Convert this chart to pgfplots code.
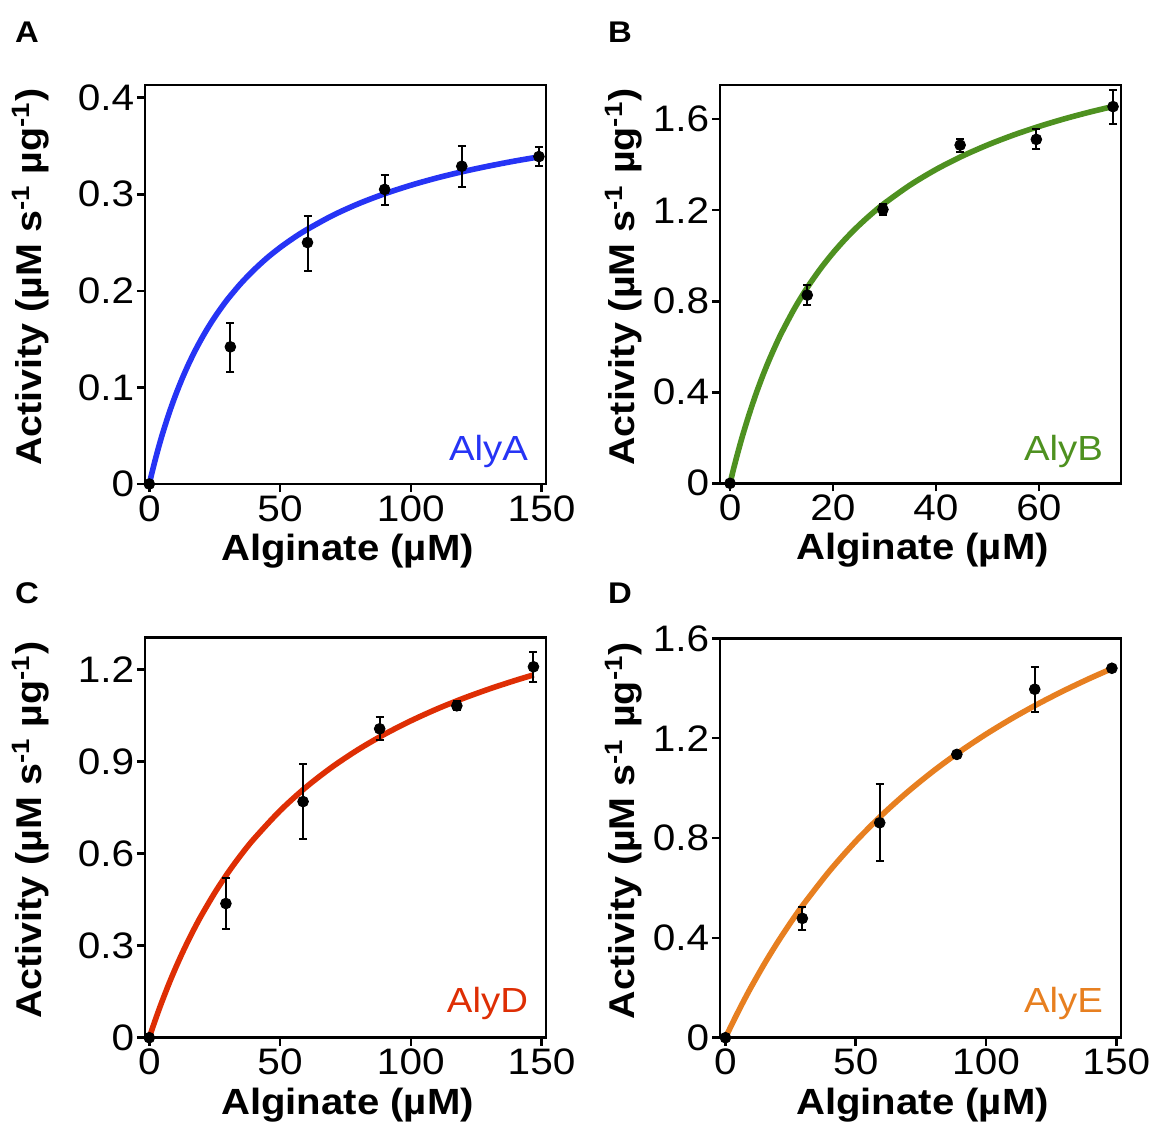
\documentclass[border=0pt]{standalone}
\usepackage{fontspec}
\setmainfont{Liberation Sans}[FakeStretch=1.1]
\usepackage{pgfplots}
\pgfplotsset{compat=1.18}

\definecolor{cA}{RGB}{38,52,245}
\definecolor{cB}{RGB}{78,145,32}
\definecolor{cD}{RGB}{222,46,4}
\definecolor{cE}{RGB}{231,127,32}

\pgfplotsset{
  panel/.style={
    scale only axis,
    axis line style={line width=1.4bp},
    tick style={line width=1.3bp, black},
    major tick length=4bp,
    tick align=outside,
    tick pos=left,
    ymin=0,
    /pgf/number format/assume math mode=true,
    ticklabel style={font=\fontsize{18.5}{21}\selectfont},
    yticklabel style={inner sep=1.2bp},
    xticklabel style={inner sep=1.5bp},
    xlabel={\fontsize{18.3}{21}\selectfont\bfseries Alginate (µM)},
    ylabel={\fontsize{18}{21}\selectfont\bfseries Activity (µM s\textsuperscript{-1} µg\textsuperscript{-1})},
    xlabel style={at={(axis description cs:0.505,-0.192)}, anchor=base},
  },
  fit/.style={line width=2.8bp, no marks, smooth},
  pts/.style={only marks, mark=*, mark size=2.7bp, black,
    error bars/.cd, y dir=both, y explicit,
    error bar style={line width=1bp, black},
    error mark options={rotate=90, mark size=2bp, line width=1bp, black}},
}

\begin{document}
\begin{tikzpicture}
\useasboundingbox (0,0) rectangle (576bp,-561bp);

% ---- A
\begin{axis}[panel, at={(72.5bp,-242bp)}, anchor=south west,
  width=200.5bp, height=199.5bp,
  xmin=-1.64, xmax=151.7, ymax=0.4131,
  xtick={0,50,100,150}, xticklabels={0,50,100,150},
  ytick={0,0.1,0.2,0.3,0.4}, yticklabels={0,0.1,0.2,0.3,0.4},
  ylabel style={at={(axis description cs:-0.333,0.518)}, anchor=north, inner sep=0pt}]
\addplot[fit, cA] coordinates {
 (0,0) (1,0.0114) (2,0.0222) (3.5,0.0374) (5,0.0515) (7.5,0.0728) (10,0.0917)
 (12.5,0.1087) (15,0.1240) (17.5,0.1379) (20,0.1505) (22.5,0.1621) (25,0.1727)
 (27.5,0.1824) (30,0.1915) (35,0.2076) (40,0.2216) (45,0.2340) (50,0.2448)
 (55,0.2544) (60,0.2630) (70,0.2779) (80,0.2902)
 (90,0.3005) (100,0.3093) (110,0.3169) (120,0.3235) (130,0.3293) (140,0.3345) (150,0.3391)};
\addplot[pts] coordinates {
 (0,0) +- (0,0)
 (31,0.142) += (0,0.025) -= (0,0.026)
 (60.5,0.250) += (0,0.027) -= (0,0.029)
 (90,0.305) += (0,0.015) -= (0,0.016)
 (119.5,0.329) += (0,0.021) -= (0,0.022)
 (149,0.339) += (0,0.010) -= (0,0.010)};
\node[anchor=base east, text=cA, font=\fontsize{17.5}{20}\selectfont, inner sep=0pt] at (rel axis cs:0.956,0.06) {AlyA};
\end{axis}

% ---- B
\begin{axis}[panel, at={(360bp,-241.65bp)}, anchor=south west,
  width=200.5bp, height=199.15bp,
  xmin=-1.95, xmax=75.95, ymax=1.75,
  xtick={0,20,40,60}, xticklabels={0,20,40,60},
  ytick={0,0.4,0.8,1.2,1.6}, yticklabels={0,0.4,0.8,1.2,1.6},
  ylabel style={at={(axis description cs:-0.288,0.518)}, anchor=north, inner sep=0pt}]
\addplot[fit, cB] coordinates {
 (0,0) (0.5,0.0466) (1,0.0912) (1.75,0.1546) (2.5,0.2144) (3.75,0.3060) (5,0.3901)
 (6.25,0.4667) (7.5,0.5367) (8.75,0.6010) (10,0.6609) (12.5,0.7674)
 (15,0.8598) (17.5,0.9408) (20,1.0122) (22.5,1.0757) (25,1.1326) (27.5,1.1838)
 (30,1.2302) (35,1.3108) (40,1.3786)
 (45,1.4364) (50,1.4862) (55,1.5297) (60,1.5678) (65,1.6017) (70,1.6318) (75,1.6589)};
\addplot[pts] coordinates {
 (0,0) +- (0,0)
 (15,0.827) += (0,0.045) -= (0,0.044)
 (29.7,1.203) += (0,0.022) -= (0,0.025)
 (44.7,1.486) += (0,0.028) -= (0,0.030)
 (59.5,1.511) += (0,0.045) -= (0,0.044)
 (74.4,1.655) += (0,0.073) -= (0,0.075)};
\node[anchor=base east, text=cB, font=\fontsize{17.5}{20}\selectfont, inner sep=0pt] at (rel axis cs:0.956,0.058) {AlyB};
\end{axis}

% ---- C
\begin{axis}[panel, at={(72.5bp,-518.85bp)}, anchor=south west,
  width=200.5bp, height=200.2bp,
  xmin=-1.64, xmax=151.7, ymax=1.304,
  xtick={0,50,100,150}, xticklabels={0,50,100,150},
  ytick={0,0.3,0.6,0.9,1.2}, yticklabels={0,0.3,0.6,0.9,1.2},
  ylabel style={at={(axis description cs:-0.333,0.518)}, anchor=north, inner sep=0pt}]
\addplot[fit, cD] coordinates {
 (0,0) (1,0.0257) (2,0.0506) (3.5,0.0866) (5,0.1210) (7.5,0.1754) (10,0.2261)
 (12.5,0.2735) (15,0.3180) (17.5,0.3599) (20,0.3993) (25,0.4715) (30,0.5363)
 (35,0.5946) (40,0.6473) (50,0.7392) (60,0.8164) (70,0.8822) (80,0.9390) (90,0.9885)
 (100,1.0320) (110,1.0706) (120,1.1050) (130,1.1358) (140,1.1637) (147,1.1817)};
\addplot[pts] coordinates {
 (0,0) +- (0,0)
 (29.3,0.437) += (0,0.082) -= (0,0.083)
 (58.8,0.769) += (0,0.122) -= (0,0.121)
 (88.1,1.006) += (0,0.037) -= (0,0.036)
 (117.6,1.081) += (0,0.014) -= (0,0.015)
 (146.9,1.208) += (0,0.049) -= (0,0.049)};
\node[anchor=base east, text=cD, font=\fontsize{17.5}{20}\selectfont, inner sep=0pt] at (rel axis cs:0.956,0.062) {AlyD};
\end{axis}

% ---- D
\begin{axis}[panel, at={(360bp,-518.85bp)}, anchor=south west,
  width=200.5bp, height=199.7bp,
  xmin=-2.1, xmax=151.8, ymax=1.6,
  xtick={0,50,100,150}, xticklabels={0,50,100,150},
  ytick={0,0.4,0.8,1.2,1.6}, yticklabels={0,0.4,0.8,1.2,1.6},
  ylabel style={at={(axis description cs:-0.288,0.518)}, anchor=north, inner sep=0pt}]
\addplot[fit, cE] coordinates {
 (0,0) (2.5,0.0546) (5,0.107) (7.5,0.1574) (10,0.2058) (15,0.2972) (20,0.3821)
 (25,0.4612) (30,0.535) (40,0.6688) (50,0.7868)
 (60,0.8917) (70,0.9855) (80,1.070) (90,1.1464) (100,1.2159) (110,1.2793)
 (120,1.3375) (130,1.391) (140,1.4404) (148,1.4772)};
\addplot[pts] coordinates {
 (0,0) +- (0,0)
 (29.5,0.478) += (0,0.044) -= (0,0.047)
 (59.2,0.861) += (0,0.157) -= (0,0.152)
 (88.8,1.135) +- (0,0)
 (118.7,1.396) += (0,0.088) -= (0,0.090)
 (148.3,1.480) +- (0,0)};
\node[anchor=base east, text=cE, font=\fontsize{17.5}{20}\selectfont, inner sep=0pt] at (rel axis cs:0.956,0.062) {AlyE};
\end{axis}

\node[font=\fontsize{15}{18}\selectfont\bfseries] at (13.5bp,-16bp) {A};
\node[font=\fontsize{15}{18}\selectfont\bfseries] at (310bp,-16bp) {B};
\node[font=\fontsize{15}{18}\selectfont\bfseries] at (13.5bp,-296.5bp) {C};
\node[font=\fontsize{15}{18}\selectfont\bfseries] at (310bp,-296.5bp) {D};
\end{tikzpicture}
\end{document}
